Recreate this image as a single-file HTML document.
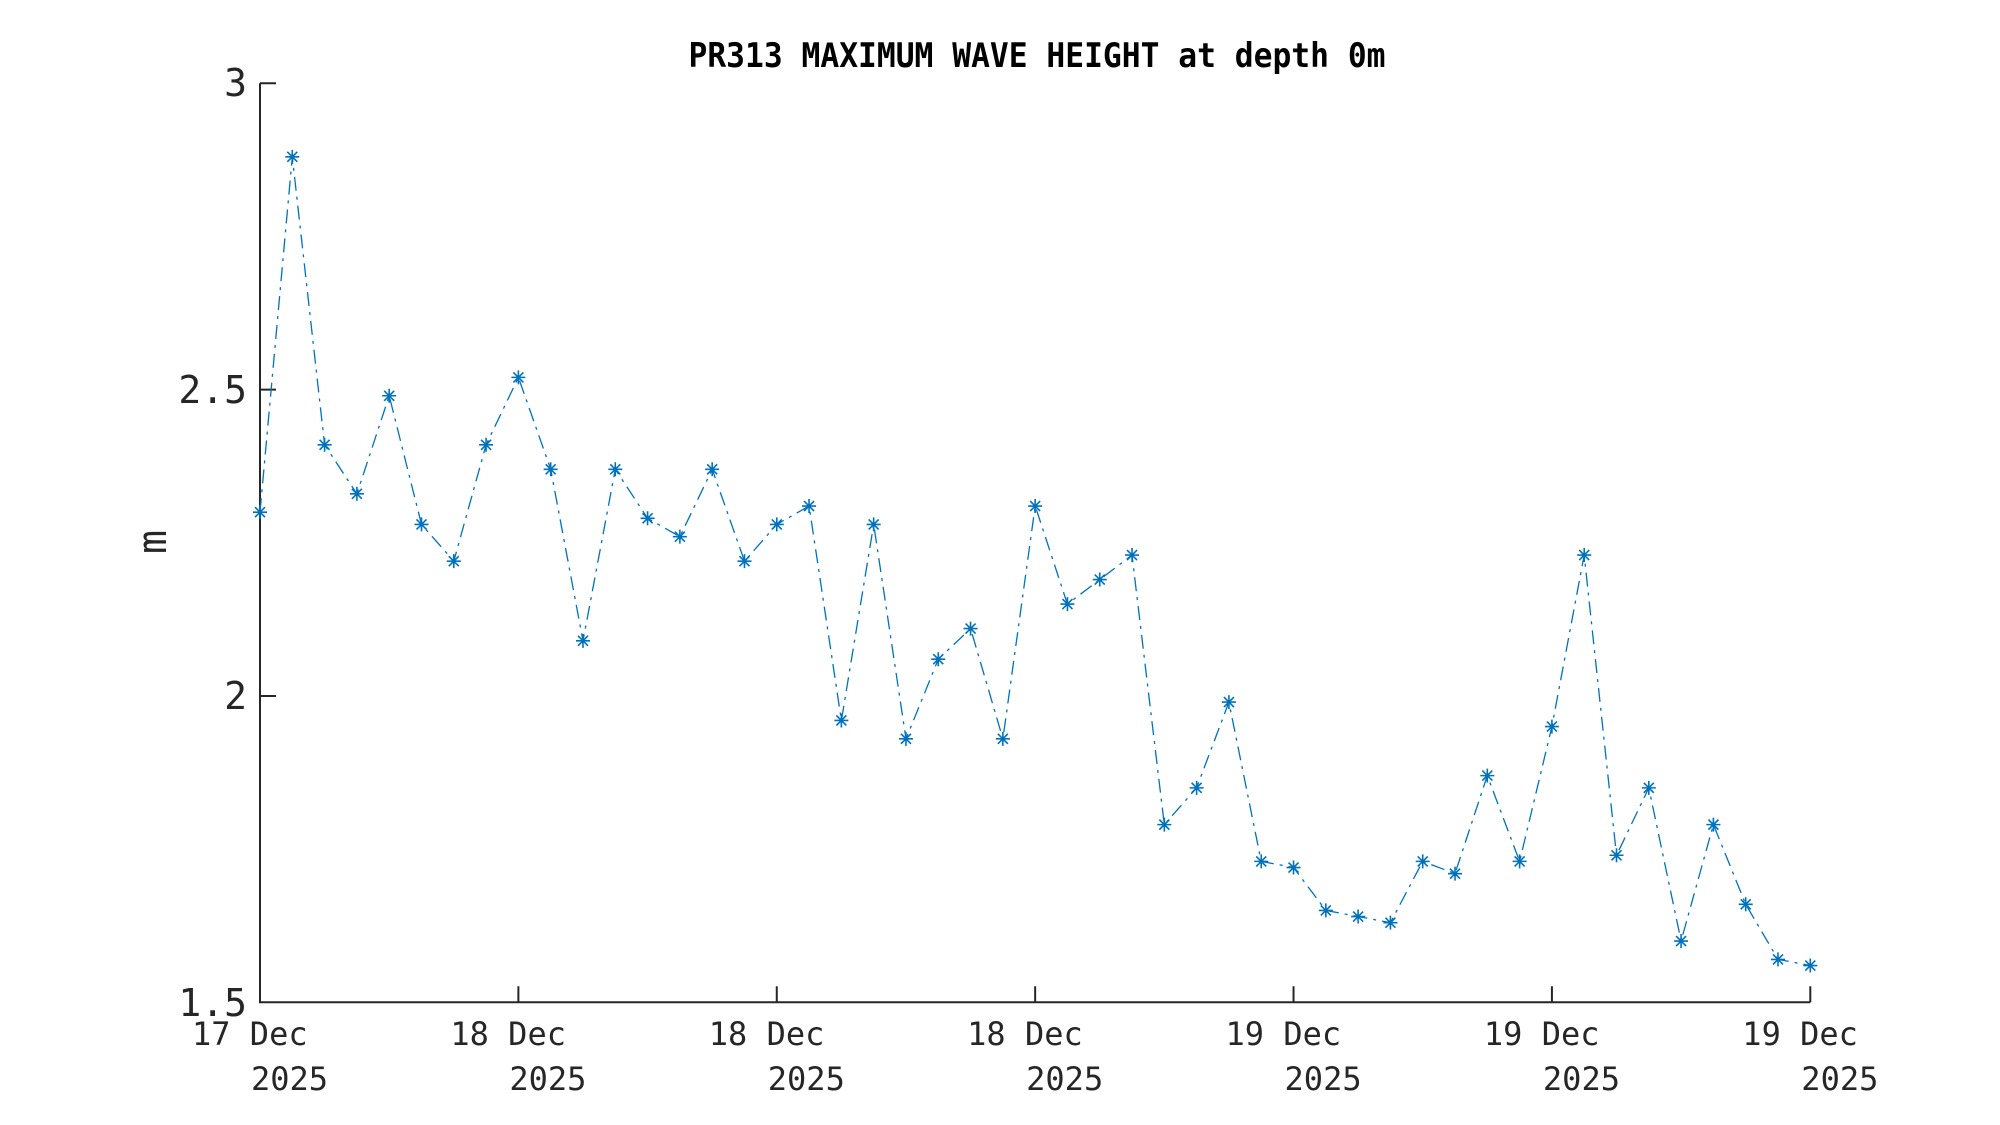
<!DOCTYPE html>
<html><head><meta charset="utf-8"><style>html,body{margin:0;padding:0;background:#fff}svg{display:block}</style></head>
<body>
<svg id="s" width="2000" height="1125" xmlns="http://www.w3.org/2000/svg" font-family="'DejaVu Sans Mono','Liberation Mono',monospace">
<rect width="2000" height="1125" fill="#fff"/>
<text x="1037" y="67" font-size="34" font-weight="bold" text-anchor="middle" textLength="697" lengthAdjust="spacingAndGlyphs" fill="#000">PR313 MAXIMUM WAVE HEIGHT at depth 0m</text>
<g stroke="#262626" stroke-width="2" fill="none">
<path d="M260,83.3 V1002.3 H1810.3"/>
<path d="M260,83.3 h16 M260,389.6 h16 M260,696 h16"/>
<path id="xt" d=""/>
</g>
<g font-size="38" fill="#262626" text-anchor="end">
<text x="247" y="96">3</text>
<text x="247" y="403">2.5</text>
<text x="247" y="709">2</text>
<text x="247" y="1016">1.5</text>
</g>
<text transform="translate(166,542) rotate(-90)" font-size="40" fill="#262626" text-anchor="middle">m</text>
<g id="xl" font-size="32" fill="#262626"></g>
<path id="ln" fill="none" stroke="#0072BD" stroke-width="1.3" stroke-dasharray="14,6,3,6"/>
<g id="mk" stroke="#0072BD" stroke-width="1.6"></g>
</svg>
<script>
var v=[2.30,2.88,2.41,2.33,2.49,2.28,2.22,2.41,2.52,2.37,2.09,2.37,2.29,2.26,2.37,2.22,2.28,2.31,1.96,2.28,1.93,2.06,2.11,1.93,2.31,2.15,2.19,2.23,1.79,1.85,1.99,1.73,1.72,1.65,1.64,1.63,1.73,1.71,1.87,1.73,1.95,2.23,1.74,1.85,1.60,1.79,1.66,1.57,1.56];
var ns="http://www.w3.org/2000/svg",x0=260,x1=1810.3,y0=1002.3,y1=83.3;
var d="",m="";
v.forEach(function(a,i){var x=x0+(x1-x0)*i/48,y=y0-(a-1.5)/1.5*(y0-y1);d+=(i?"L":"M")+x.toFixed(1)+","+y.toFixed(1);
var r=7,q=5;m+="M"+(x-r)+","+y+"h"+2*r+"M"+x+","+(y-r)+"v"+2*r+"M"+(x-q)+","+(y-q)+"l"+2*q+","+2*q+"M"+(x-q)+","+(y+q)+"l"+2*q+","+(-2*q);});
document.getElementById("ln").setAttribute("d",d);
var p=document.createElementNS(ns,"path");p.setAttribute("d",m);document.getElementById("mk").appendChild(p);
var labs=["17 Dec","18 Dec","18 Dec","18 Dec","19 Dec","19 Dec","19 Dec"],t="",g=document.getElementById("xl");
for(var k=0;k<7;k++){var x=x0+(x1-x0)*k/6;t+="M"+x+","+y0+"v-16";
var a=document.createElementNS(ns,"text");a.setAttribute("x",x-68);a.setAttribute("y",1045);a.textContent=labs[k];g.appendChild(a);
var b=document.createElementNS(ns,"text");b.setAttribute("x",x-9);b.setAttribute("y",1090);b.textContent="2025";g.appendChild(b);}
document.getElementById("xt").setAttribute("d",t);
</script>
</body></html>
